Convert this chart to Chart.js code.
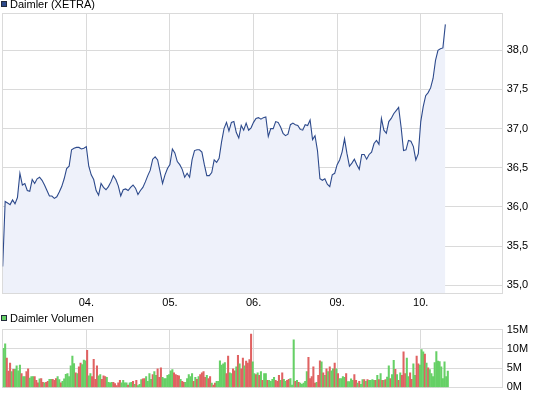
<!DOCTYPE html>
<html>
<head>
<meta charset="utf-8">
<title>Daimler (XETRA)</title>
<script src="https://cdn.jsdelivr.net/npm/chart.js@4.4.0/dist/chart.umd.min.js"></script>
<style>
    html, body { margin: 0; padding: 0; background: #fff; }
    #wrap { position: relative; width: 545px; height: 398px; overflow: hidden; }
    #wrap canvas { position: absolute; left: 0; }
</style>
</head>
<body>
<div id="wrap">
    <canvas id="price-chart" width="545" height="314" style="top:0"></canvas>
    <canvas id="volume-chart" width="545" height="84" style="top:314px"></canvas>
</div>
<script>
// Axis labels (trading days) and ticks
const dayLabels = ['03.', '04.', '05.', '06.', '09.', '10.'];
const priceTicks = [35, 35.5, 36, 36.5, 37, 37.5, 38];
const volumeTicks = [0, 5, 10, 15];
const pricePerDay = 34;   // 15 min steps per trading day
const volPerDay = 51;     // 10 min volume bars per trading day

// Daimler price (EUR), 15 min steps from 03. to 10.
const prices = [
    35.24, 36.07, 36.05, 36.03, 36.09, 36.04, 36.12, 36.43, 36.28, 36.30,
    36.21, 36.20, 36.35, 36.30, 36.36, 36.38, 36.34, 36.28, 36.21, 36.14,
    36.14, 36.11, 36.13, 36.19, 36.26, 36.36, 36.49, 36.52, 36.73, 36.75,
    36.76, 36.76, 36.74, 36.75, 36.77, 36.52, 36.41, 36.35, 36.21, 36.15,
    36.30, 36.25, 36.22, 36.26, 36.32, 36.40, 36.35, 36.27, 36.14, 36.22,
    36.23, 36.21, 36.25, 36.28, 36.24, 36.16, 36.21, 36.25, 36.32, 36.40,
    36.47, 36.61, 36.64, 36.60, 36.45, 36.30, 36.41, 36.49, 36.54, 36.74,
    36.69, 36.58, 36.54, 36.48, 36.38, 36.43, 36.38, 36.60, 36.72, 36.73,
    36.73, 36.70, 36.54, 36.40, 36.40, 36.44, 36.60, 36.57, 36.62, 36.83,
    37.00, 37.08, 36.97, 37.08, 37.09, 36.95, 36.88, 37.04, 36.98, 37.07,
    36.98, 37.01, 37.08, 37.13, 37.14, 37.12, 37.14, 37.15, 36.90, 37.00,
    37.00, 37.09, 37.08, 37.02, 36.94, 36.91, 36.93, 37.05, 37.07, 37.05,
    37.04, 36.99, 36.98, 37.05, 37.04, 37.11, 36.86, 36.91, 36.72, 36.36,
    36.34, 36.36, 36.29, 36.26, 36.41, 36.43, 36.54, 36.60, 36.70, 36.87,
    36.68, 36.52, 36.56, 36.61, 36.54, 36.48, 36.67, 36.67, 36.61, 36.67,
    36.70, 36.81, 36.85, 36.80, 37.13, 36.98, 36.94, 37.09, 37.13, 37.19,
    37.23, 37.27, 37.02, 36.72, 36.73, 36.85, 36.84, 36.77, 36.60, 36.68,
    37.09, 37.28, 37.42, 37.46, 37.52, 37.64, 37.87, 38.00, 38.02, 38.03,
    38.33
];

// Volume in millions per 10 min bar, g = up bar, r = down bar
const vol03 = [10.1, 11.3, 7.6, 4.2, 6.3, 4.1, 4.7, 4.7, 5.6, 4.3, 5.8, 3.6, 2.8, 2.8, 4.1, 4.8, 2.4, 2.8, 2.8, 2.8,
    1.8, 1.2, 2.2, 2.3, 1.3, 1.2, 1.3, 1.6, 2.1, 2.1, 2.1, 1.8, 2.3, 2.8, 2.0, 1.2, 1.6, 2.2, 3.4, 3.6,
    2.8, 5.6, 8.1, 6.2, 3.8, 3.6, 5.3, 6.3, 5.9, 7.1, 6.9];
const col03 = 'ggrrrgrggggrggrrgggrrrgrrgrrggrrrggrggggggggrgrrggg';
const vol04 = [9.6, 3.0, 3.6, 2.8, 7.3, 2.1, 5.6, 3.0, 3.3, 2.1, 3.0, 2.8, 2.6, 1.3, 1.2, 1.3, 1.3, 1.0, 0.5, 1.2,
    1.8, 1.2, 1.8, 1.2, 1.2, 0.6, 1.2, 1.3, 1.6, 0.8, 1.8, 0.5, 0.8, 2.0, 2.2, 2.3, 2.8, 1.6, 3.6, 2.1,
    3.3, 4.1, 3.1, 4.8, 2.6, 5.1, 2.6, 2.3, 2.3, 3.1, 3.3];
const col04 = 'rggrrrrggrrrggggrrrrrggggrggrgrgggrrggggrggrrrggggg';
const vol05 = [4.3, 4.6, 3.8, 3.3, 3.1, 3.0, 2.1, 1.6, 1.3, 1.3, 2.3, 3.3, 2.8, 3.6, 1.6, 2.6, 2.1, 2.8, 3.3, 3.8,
    4.1, 2.6, 3.1, 2.3, 2.8, 1.1, 0.6, 1.1, 1.6, 1.6, 6.9, 5.8, 6.1, 6.4, 3.6, 8.1, 3.8, 3.6, 4.8, 4.3,
    5.3, 8.3, 6.1, 4.8, 7.6, 5.6, 6.8, 6.3, 7.2, 13.8, 6.6];
const col05 = 'ggrrrrgrrgggggrgrgrrrrgrrgrrggggggrrggrrgrgrrgrrrrg';
const vol06 = [3.6, 3.3, 3.8, 3.1, 4.1, 1.8, 3.6, 3.6, 1.8, 1.8, 1.6, 2.1, 2.6, 1.8, 1.6, 3.1, 1.8, 3.8, 2.1, 1.6,
    1.8, 2.1, 2.3, 0.6, 12.3, 1.6, 1.8, 1.3, 1.1, 0.8, 1.1, 1.6, 4.1, 7.8, 2.3, 2.8, 5.3, 1.1, 1.3, 3.1,
    6.9, 6.6, 3.8, 3.1, 4.8, 4.1, 5.3, 4.3, 4.8, 6.3, 4.8];
const col06 = 'grgrgrggrggggrrrgrggrrgggrgrgggggrrrrrgrrgrgrgrggrg';
const vol09 = [3.6, 2.3, 2.3, 2.8, 2.6, 3.6, 1.5, 1.5, 2.2, 1.8, 3.3, 1.8, 1.1, 1.6, 0.8, 2.0, 2.0, 1.6, 2.0, 1.8,
    1.8, 2.0, 1.8, 1.8, 3.1, 2.0, 3.6, 1.8, 1.8, 2.0, 2.7, 5.6, 2.3, 3.3, 7.0, 4.7, 3.3, 1.8, 3.8, 3.1,
    9.2, 3.6, 7.6, 2.8, 3.8, 2.1, 6.1, 3.1, 8.1, 6.1, 5.8];
const col09 = 'rggggrggggrrgrggrgrggggrgrgrgrggrggrgrgrrrggrrggrrg';
const vol10 = [9.8, 9.2, 8.6, 6.3, 5.1, 4.6, 3.6, 2.8, 6.4, 9.3, 6.8, 6.7, 5.3, 2.3, 6.6, 2.8, 4.2];
const col10 = 'ggrgrgggggggggggg';

const volDays = [vol03, vol04, vol05, vol06, vol09, vol10];
const colDays = [col03, col04, col05, col06, col09, col10];

// Styles
const FONT = { family: '"Liberation Sans", Arial, sans-serif', size: 11 };
const GRID = '#dadada';
const LINE = '#2d4a8c';
const AREA = '#eef1fa';
const GREEN = '#66d066';
const RED = '#e06262';

// Build points from the series
const pricePoints = prices.map((v, i) => ({ x: i / pricePerDay, y: v }));
const volPoints = [];
const volColors = [];
volDays.forEach((day, d) => {
    day.forEach((v, k) => {
        volPoints.push({ x: d + (k + 0.5) / volPerDay, y: v });
        volColors.push(colDays[d][k] === 'g' ? GREEN : RED);
    });
});

// Frame round the plot area + small box legend in the corner
const framePlugin = {
    id: 'frame',
    beforeDatasetsDraw(chart) {
        const a = chart.chartArea;
        const al = v => Math.round(v - 0.5) + 0.5;
        const ctx = chart.ctx;
        ctx.save();
        ctx.strokeStyle = GRID;
        ctx.lineWidth = 1;
        ctx.strokeRect(al(a.left), al(a.top), al(a.right) - al(a.left), al(a.bottom) - al(a.top));
        ctx.restore();
    },
    afterDraw(chart, args, opts) {
        const ctx = chart.ctx;
        ctx.save();
        ctx.fillStyle = opts.color;
        ctx.fillRect(1, 1, 6, 6);
        ctx.strokeStyle = '#222a3a';
        ctx.lineWidth = 1;
        ctx.strokeRect(1.5, 1.5, 5, 5);
        ctx.font = FONT.size + 'px ' + FONT.family;
        ctx.fillStyle = '#000';
        ctx.textBaseline = 'middle';
        ctx.fillText(opts.text, 10, 4.5);
        ctx.restore();
    }
};

function dayAxis(showLabels, height) {
    return {
        type: 'linear',
        min: 0,
        max: 5.98,
        offset: false,
        afterBuildTicks: s => { s.ticks = [1, 2, 3, 4, 5].map(v => ({ value: v })); },
        afterFit: s => { s.height = height; },
        ticks: {
            display: showLabels,
            callback: v => dayLabels[v],
            font: FONT,
            color: '#000',
            padding: 3,
            maxRotation: 0,
            autoSkip: false
        },
        grid: { color: GRID, drawTicks: false, offset: false },
        border: { display: false }
    };
}

function valueAxis(min, max, ticks, fmt) {
    return {
        position: 'right',
        min: min,
        max: max,
        afterBuildTicks: s => { s.ticks = ticks.map(v => ({ value: v })); },
        afterFit: s => { s.width = 42.3; },
        ticks: { callback: fmt, font: FONT, color: '#000', padding: 4 },
        grid: { color: GRID, drawTicks: false },
        border: { display: false }
    };
}

new Chart(document.getElementById('price-chart'), {
    type: 'line',
    data: {
        datasets: [{
            label: 'Daimler (XETRA)',
            data: pricePoints,
            borderColor: LINE,
            borderWidth: 1.1,
            backgroundColor: AREA,
            fill: 'start',
            pointRadius: 0,
            tension: 0
        }]
    },
    options: {
        responsive: false,
        animation: false,
        devicePixelRatio: 1,
        layout: { padding: { left: 2.7, right: 0, top: 13.3, bottom: 0 } },
        plugins: {
            legend: { display: false },
            tooltip: { enabled: false },
            frame: { color: LINE, text: 'Daimler (XETRA)' }
        },
        scales: {
            x: dayAxis(true, 314 - 293.3),
            y: valueAxis(34.898, 38.472, priceTicks, v => v.toFixed(1).replace('.', ','))
        }
    },
    plugins: [framePlugin]
});

new Chart(document.getElementById('volume-chart'), {
    type: 'bar',
    data: {
        datasets: [{
            label: 'Daimler Volumen',
            data: volPoints,
            backgroundColor: volColors,
            barThickness: 1.4,
            borderWidth: 0
        }]
    },
    options: {
        responsive: false,
        animation: false,
        devicePixelRatio: 1,
        layout: { padding: { left: 2.7, right: 0, top: 15.5, bottom: 0 } },
        plugins: {
            legend: { display: false },
            tooltip: { enabled: false },
            frame: { color: GREEN, text: 'Daimler Volumen' }
        },
        scales: {
            x: dayAxis(false, 84 - 75.3),
            y: valueAxis(0, 15, volumeTicks, v => v + 'M')
        }
    },
    plugins: [framePlugin]
});
</script>
</body>
</html>
